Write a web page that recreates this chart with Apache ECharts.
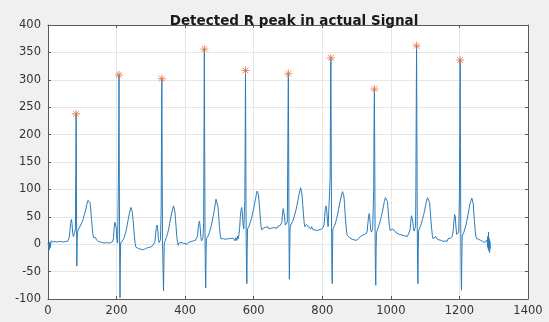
<!DOCTYPE html>
<html>
<head>
<meta charset="utf-8">
<script src="https://cdn.jsdelivr.net/npm/echarts@6/dist/echarts.min.js"></script>
<style>html,body{margin:0;padding:0;background:#f0f0f0;}#c{width:549px;height:322px;}</style>
</head>
<body>
<div id="c"></div>
<script>
const title = 'Detected R peak in actual Signal';
const xTicks = [0, 200, 400, 600, 800, 1000, 1200, 1400];
const yTicks = [-100, -50, 0, 50, 100, 150, 200, 250, 300, 350, 400];

// ECG signal samples (sample index, amplitude)
const sigX = [0,2,4,5,7,9,11,13,15,18,21,24,27,30,33,36,39,42,45,48,51,54,57,60,62,64,66,68,70,72,74,76,78,80,81,82,83,84,85,86,88,90,93,96,99,102,105,108,111,114,117,119,121,123,125,127,129,131,133,135,137,139,141,144,147,150,153,156,159,162,165,168,171,174,177,180,183,186,189,191,193,195,197,199,201,203,205,206,207,208,209,210,211,212,214,216,219,222,225,228,231,234,237,240,242,244,246,248,250,252,254,256,258,261,264,267,270,273,276,279,282,285,288,291,294,297,300,303,306,309,312,314,316,318,320,322,324,326,328,330,331,332,333,334,336,337,338,339,341,343,346,349,352,355,358,361,364,366,368,370,372,374,376,378,380,382,385,388,391,394,397,400,403,406,409,412,415,418,421,424,427,430,432,434,436,438,440,442,444,446,448,450,452,454,455,456,457,458,459,460,461,462,464,467,470,473,476,479,482,485,488,490,492,494,496,498,500,502,504,506,509,512,515,518,521,524,527,530,533,536,539,542,545,548,551,553,555,557,559,561,563,565,567,569,571,573,574,575,576,577,578,579,580,581,582,584,587,590,593,596,599,602,605,608,610,612,614,616,618,620,622,624,626,629,632,635,638,641,644,647,650,653,656,659,662,665,668,671,674,677,680,682,684,686,688,690,692,694,696,698,699,700,701,702,703,704,705,706,708,711,714,717,720,723,726,729,732,735,737,739,741,743,745,747,749,751,754,757,760,763,766,769,772,775,778,781,784,787,790,793,796,799,802,805,807,809,811,813,815,817,819,821,823,824,825,826,827,828,829,830,831,833,836,839,842,845,848,851,854,857,859,861,863,865,867,869,871,873,875,878,881,884,887,890,893,896,899,902,905,908,911,914,917,920,923,926,929,931,933,935,937,939,941,943,945,947,949,950,951,952,953,954,955,956,957,958,960,963,966,969,972,975,978,981,984,986,988,990,992,994,996,998,1000,1003,1006,1009,1012,1015,1018,1021,1024,1027,1030,1033,1036,1039,1042,1045,1048,1051,1054,1056,1058,1060,1062,1064,1066,1068,1070,1072,1073,1074,1075,1076,1077,1078,1079,1080,1081,1083,1086,1089,1092,1095,1098,1101,1104,1107,1109,1111,1113,1115,1117,1119,1121,1123,1125,1128,1131,1134,1137,1140,1143,1146,1149,1152,1155,1158,1161,1164,1167,1170,1173,1176,1179,1182,1184,1186,1188,1190,1192,1194,1196,1198,1200,1201,1202,1203,1204,1205,1206,1207,1208,1210,1213,1216,1219,1222,1225,1228,1231,1234,1236,1238,1240,1242,1244,1246,1248,1250,1253,1256,1259,1262,1265,1268,1271,1274,1277,1279,1281,1282,1283,1284,1285,1286,1287,1288,1289,1290];
const sigY = [2,-3,-10,4,-6,6,3,7,4,6,5,7,4,6,5,7,5,6,4,7,5,6,5,7,12,25,38,45,38,20,14,18,22,28,130,238,100,-40,5,22,26,28,32,35,40,45,52,58,66,75,80,83,82,75,60,45,30,18,12,9,10,12,8,7,5,6,4,5,3,5,2,4,3,5,2,4,3,2,5,12,30,40,42,30,8,2,5,150,309,120,-20,-98,-30,2,0,3,8,12,18,25,35,45,55,63,67,66,58,45,30,15,2,-5,-6,-4,-8,-5,-9,-7,-10,-8,-9,-11,-7,-9,-6,-8,-5,-6,-2,-3,5,20,30,35,28,10,3,5,8,60,185,302,150,10,-60,-85,-40,0,5,8,14,20,28,38,48,58,66,70,68,60,45,28,12,3,-2,2,5,3,6,2,4,1,3,0,2,4,1,5,3,6,4,7,5,8,15,28,38,42,30,12,6,8,12,40,200,356,180,20,-50,-80,-20,10,12,15,20,26,33,42,52,62,74,82,85,80,68,50,32,18,10,8,12,10,11,9,12,10,8,10,7,11,8,10,6,12,7,15,10,18,30,50,62,67,55,35,28,30,80,178,317,150,10,-40,-72,-10,28,30,34,40,46,54,62,72,82,92,97,98,90,75,58,42,30,26,28,30,27,31,29,32,28,31,29,32,30,33,30,32,29,33,31,34,32,40,55,65,66,50,35,32,35,40,130,230,311,170,10,-64,-20,30,35,38,42,48,55,62,70,80,90,98,103,102,90,72,55,40,32,30,36,33,31,34,28,32,27,30,26,29,25,28,26,29,27,28,30,35,50,65,70,62,42,32,30,35,120,260,340,200,30,-40,-72,-10,28,30,34,40,47,55,65,75,84,92,96,95,88,72,52,35,22,16,14,15,11,13,9,11,8,10,7,9,10,12,14,13,16,15,18,17,20,24,38,50,56,45,28,22,25,28,30,100,220,283,160,20,-50,-75,-10,20,25,30,36,42,50,58,68,78,85,88,86,78,62,45,32,25,22,24,28,26,23,25,20,22,18,21,17,19,16,18,15,17,14,18,20,26,40,52,55,42,28,24,28,32,100,240,362,200,30,-40,-72,-5,25,28,32,38,45,52,60,70,79,85,88,86,76,60,42,28,16,10,9,12,14,10,11,8,10,7,9,5,8,6,9,5,10,7,11,9,14,25,42,54,50,30,18,15,20,22,90,206,336,180,20,-50,-84,-20,15,18,22,28,35,44,54,64,74,80,84,83,75,58,40,25,14,10,12,9,10,7,8,5,6,3,5,0,8,-5,15,-8,22,-12,10,-15,5,-8];

// detected R peaks
const peakX = [82, 207, 332, 456, 576, 701, 825, 952, 1075, 1202];
const peakY = [238, 309, 302, 356, 317, 311, 340, 283, 362, 336];

const chart = echarts.init(document.getElementById('c'), null, {renderer: 'canvas'});
const signal = sigX.map((x, i) => [x, sigY[i]]);
const peaks = peakX.map((x, i) => [x, peakY[i]]);
const font = '"DejaVu Sans", Verdana, sans-serif';
const axisCol = '#5a5a5a';
const plain = v => String(v);

const baseAxis = {
  axisLine: {show: true, onZero: false, lineStyle: {color: axisCol, width: 1}},
  axisTick: {show: true, inside: true, length: 3, lineStyle: {color: axisCol}},
  splitLine: {show: false}
};

chart.setOption({
  animation: false,
  backgroundColor: '#f0f0f0',
  title: {
    text: title, left: 289, top: 9, textAlign: 'center',
    textStyle: {fontFamily: font, fontWeight: 'bold', fontSize: 13.5, color: '#1a1a1a'}
  },
  grid: {left: 48, right: 21, top: 25, bottom: 23, show: true, backgroundColor: '#ffffff', borderWidth: 0},
  xAxis: [
    Object.assign({}, baseAxis, {
      type: 'value', min: xTicks[0], max: xTicks[xTicks.length - 1], interval: 200, position: 'bottom',
      axisLabel: {fontFamily: font, fontSize: 11.5, color: '#333', margin: 6, formatter: plain},
      splitLine: {show: true, lineStyle: {color: '#e6e6e6', width: 1}}
    }),
    Object.assign({}, baseAxis, {
      type: 'value', min: xTicks[0], max: xTicks[xTicks.length - 1], interval: 200, position: 'top',
      axisLabel: {show: false}
    })
  ],
  yAxis: [
    Object.assign({}, baseAxis, {
      type: 'value', min: yTicks[0], max: yTicks[yTicks.length - 1], interval: 50, position: 'left',
      axisLabel: {fontFamily: font, fontSize: 11.5, color: '#333', margin: 7, formatter: plain},
      splitLine: {show: true, lineStyle: {color: '#e6e6e6', width: 1}}
    }),
    Object.assign({}, baseAxis, {
      type: 'value', min: yTicks[0], max: yTicks[yTicks.length - 1], interval: 50, position: 'right',
      axisLabel: {show: false}
    })
  ],
  series: [
    {
      type: 'line', data: signal, showSymbol: false, symbol: 'none',
      lineStyle: {color: '#2b7bba', width: 1}, z: 2
    },
    {
      type: 'scatter', data: peaks,
      symbol: 'path://M0,-5L0,5M-5,0L5,0M-3.6,-3.6L3.6,3.6M-3.6,3.6L3.6,-3.6',
      symbolSize: 8,
      itemStyle: {color: 'rgba(0,0,0,0)', borderColor: '#e07040', borderWidth: 1},
      z: 3
    }
  ]
});
</script>
</body>
</html>
